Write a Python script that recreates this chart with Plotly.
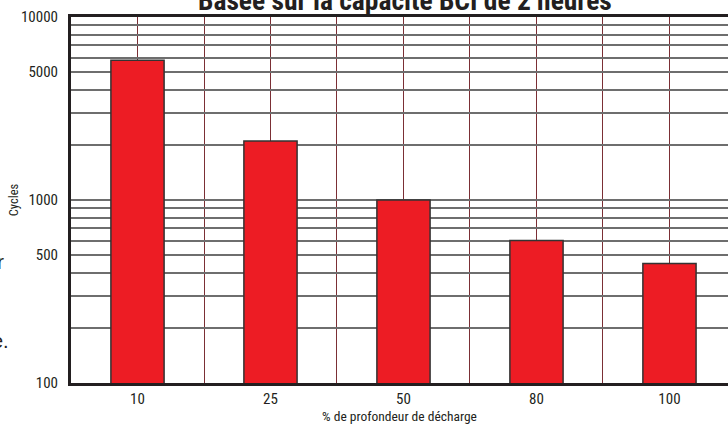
import plotly.graph_objects as go

categories = ["10", "25", "50", "80", "100"]
cycles = [5800, 2100, 1000, 600, 450]

y_tick_vals = [100, 200, 300, 400, 500, 600, 700, 800, 900,
               1000, 2000, 3000, 4000, 5000, 6000, 7000, 8000, 9000, 10000]
y_tick_text = ["100", "", "", "", "500", "", "", "", "",
               "1000", "", "", "", "5000", "", "", "", "", "10000"]

x_pos = list(range(len(categories)))
x_grid_vals = [i * 0.5 for i in range(2 * len(categories))]
x_grid_text = [categories[int(v)] if v == int(v) else "" for v in x_grid_vals]

FONT = "Roboto Condensed, sans-serif"
INK = "#231f20"

fig = go.Figure()
fig.add_trace(go.Bar(
    x=x_pos, y=cycles, width=0.4,
    marker=dict(color="#ED1C24", line=dict(color="#333333", width=1.5)),
))

fig.update_layout(
    width=728, height=426,
    margin=dict(l=71, r=0, t=17, b=43),
    paper_bgcolor="white", plot_bgcolor="white",
    showlegend=False,
    font=dict(family=FONT, color=INK),
    xaxis=dict(
        range=[-0.5, 4.44], automargin=False,
        tickmode="array", tickvals=x_grid_vals, ticktext=x_grid_text,
        showgrid=True, gridcolor="#7b2f35", gridwidth=1,
        showline=True, linecolor=INK, linewidth=3, mirror=True,
        ticks="", ticklabelstandoff=0,
        tickfont=dict(size=15, family=FONT, color=INK),
        title=dict(text="% de profondeur de décharge", standoff=1,
                   font=dict(size=13.5, family=FONT, color=INK)),
        zeroline=False, fixedrange=True,
    ),
    yaxis=dict(
        type="log", range=[2, 4], automargin=False,
        tickmode="array", tickvals=y_tick_vals, ticktext=y_tick_text,
        showgrid=True, gridcolor="#6e6e6e", gridwidth=1.5,
        showline=True, linecolor=INK, linewidth=3,
        ticks="", ticklabelstandoff=7,
        tickfont=dict(size=15, family=FONT, color=INK),
        title=dict(text="Cycles", standoff=0,
                   font=dict(size=12.5, family=FONT, color=INK)),
        zeroline=False, fixedrange=True,
    ),
    annotations=[
        dict(text="<b>Basée sur la capacité BCI de 2 heures</b>",
             xref="paper", yref="paper", x=0.508, y=1,
             xanchor="center", yanchor="bottom", yshift=-2, showarrow=False,
             font=dict(size=27.5, family=FONT, color=INK)),
        dict(text="r", xref="paper", yref="paper", x=0, y=(383 - 261) / 366,
             xanchor="right", yanchor="middle", xshift=-65, showarrow=False,
             font=dict(size=21, family="Liberation Sans, Arial, sans-serif", color=INK)),
        dict(text="e.", xref="paper", yref="paper", x=0, y=(383 - 341) / 366,
             xanchor="right", yanchor="middle", xshift=-60, showarrow=False,
             font=dict(size=20, family="Liberation Sans, Arial, sans-serif", color=INK)),
    ],
)

fig.write_html("out.html", config={"displayModeBar": False},
               post_script="document.body.style.margin='0';document.body.style.overflow='hidden';")
